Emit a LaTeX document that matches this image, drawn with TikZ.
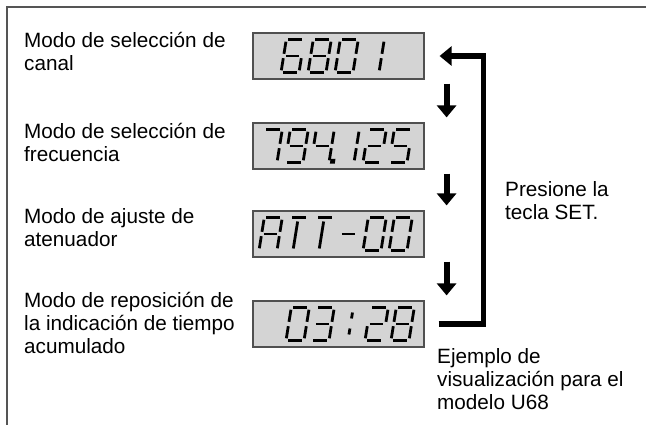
\documentclass[tikz,border=0pt]{standalone}
\usepackage{fontspec}
\setmainfont{Liberation Sans}
\usetikzlibrary{arrows.meta}
\definecolor{lcdfill}{RGB}{212,212,212}
\definecolor{lcdedge}{RGB}{80,80,80}
\definecolor{framegray}{RGB}{85,85,85}
\tikzset{
  lbl/.style={anchor=north west, inner sep=0pt, align=left, font=\fontsize{20.7}{23}\selectfont},
  lcd/.style={draw=lcdedge, line width=1.2pt, fill=lcdfill, minimum width=171pt, minimum height=46pt, inner sep=0pt},
  seg/.style={line width=2.8pt, line cap=butt},
  sa/.style={insert path={(2.2,33)--(15.8,33)}},
  sb/.style={insert path={(18,30.8)--(18,18.7)}},
  sc/.style={insert path={(18,14.3)--(18,2.2)}},
  sd/.style={insert path={(2.2,0)--(15.8,0)}},
  se/.style={insert path={(0,2.2)--(0,14.3)}},
  sf/.style={insert path={(0,18.7)--(0,30.8)}},
  sg/.style={insert path={(2.2,16.5)--(15.8,16.5)}},
  st/.style={insert path={(8,29)--(8,2)}},
  sdp/.style={insert path={(20.5,0.3) rectangle (22.5,2.3)}},
  scl/.style={insert path={(4,22)--(4,28) (4,6)--(4,12)}},
  downarr/.style={line width=6pt, -{Triangle[width=19pt,length=12pt]}},
  loopline/.style={line width=5.5pt, line join=miter, -{Triangle[width=19pt,length=12pt]}},
  framel/.style={draw=framegray, line width=1.5pt}
}
\newcommand\lcdchar[3]{\begin{scope}[shift={(#1,#2)},y=1pt,xslant=0.16]\foreach \s in {#3}{\draw[seg,s\s];}\end{scope}}
\begin{document}
\begin{tikzpicture}[x=1pt,y=-1pt]
\useasboundingbox (0,0) rectangle (646,425);
\coordinate (fbl) at (7,425);
\coordinate (fc) at (7,7);
\coordinate (ftr) at (646,7);
\draw[framel] (fbl) -- (fc) -- (ftr);

\node[lbl] (t1) at (24,31.8) {Modo de selección de\\canal};
\node[lbl] (t2) at (24,122.8) {Modo de selección de\\frecuencia};
\node[lbl] (t3) at (24,208) {Modo de ajuste de\\atenuador};
\node[lbl] (t4) at (24,292) {Modo de reposición de\\la indicación de tiempo\\acumulado};
\node[lbl] (t5) at (505,181.8) {Presione la\\tecla SET.};
\node[lbl] (t6) at (437,347.8) {Ejemplo de\\visualización para el\\modelo U68};

\node[lcd] (box1) at (338.5,56) {};
\node[lcd] (box2) at (338.5,146) {};
\node[lcd] (box3) at (338.5,234) {};
\node[lcd] (box4) at (338.5,324) {};

% 6801
\lcdchar{281}{72.5}{a,c,d,e,f,g}
\lcdchar{308}{72.5}{a,b,c,d,e,f,g}
\lcdchar{335}{72.5}{a,b,c,d,e,f}
\lcdchar{361}{72.5}{b,c}
% 794.125
\lcdchar{259}{162.5}{a,b,c}
\lcdchar{285}{162.5}{a,b,c,d,f,g}
\lcdchar{311}{162.5}{b,c,f,g,dp}
\lcdchar{336}{162.5}{b,c}
\lcdchar{363}{162.5}{a,b,d,e,g}
\lcdchar{389}{162.5}{a,c,d,f,g}
% ATT -00
\lcdchar{259}{250.5}{a,b,c,e,f,g}
\lcdchar{285}{250.5}{a,t}
\lcdchar{311}{250.5}{a,t}
\lcdchar{337}{250.5}{g}
\lcdchar{363}{250.5}{a,b,c,d,e,f}
\lcdchar{389}{250.5}{a,b,c,d,e,f}
% 03:28
\lcdchar{286}{340.5}{a,b,c,d,e,f}
\lcdchar{311}{340.5}{a,b,c,d,g}
\lcdchar{344}{340.5}{cl}
\lcdchar{365}{340.5}{a,b,d,e,g}
\lcdchar{391}{340.5}{a,b,c,d,e,f,g}

\draw[downarr] ([xshift=22pt,yshift=-4pt]box1.south east) -- ([xshift=22pt,yshift=5pt]box2.north east);
\draw[downarr] ([xshift=22pt,yshift=-4pt]box2.south east) -- ([xshift=22pt,yshift=5pt]box3.north east);
\draw[downarr] ([xshift=22pt,yshift=-4pt]box3.south east) -- ([xshift=22pt,yshift=5pt]box4.north east);
\draw[loopline] ([xshift=14pt]box4.east) -- ++(45,0) |- ([xshift=15pt]box1.east);
\end{tikzpicture}
\end{document}
